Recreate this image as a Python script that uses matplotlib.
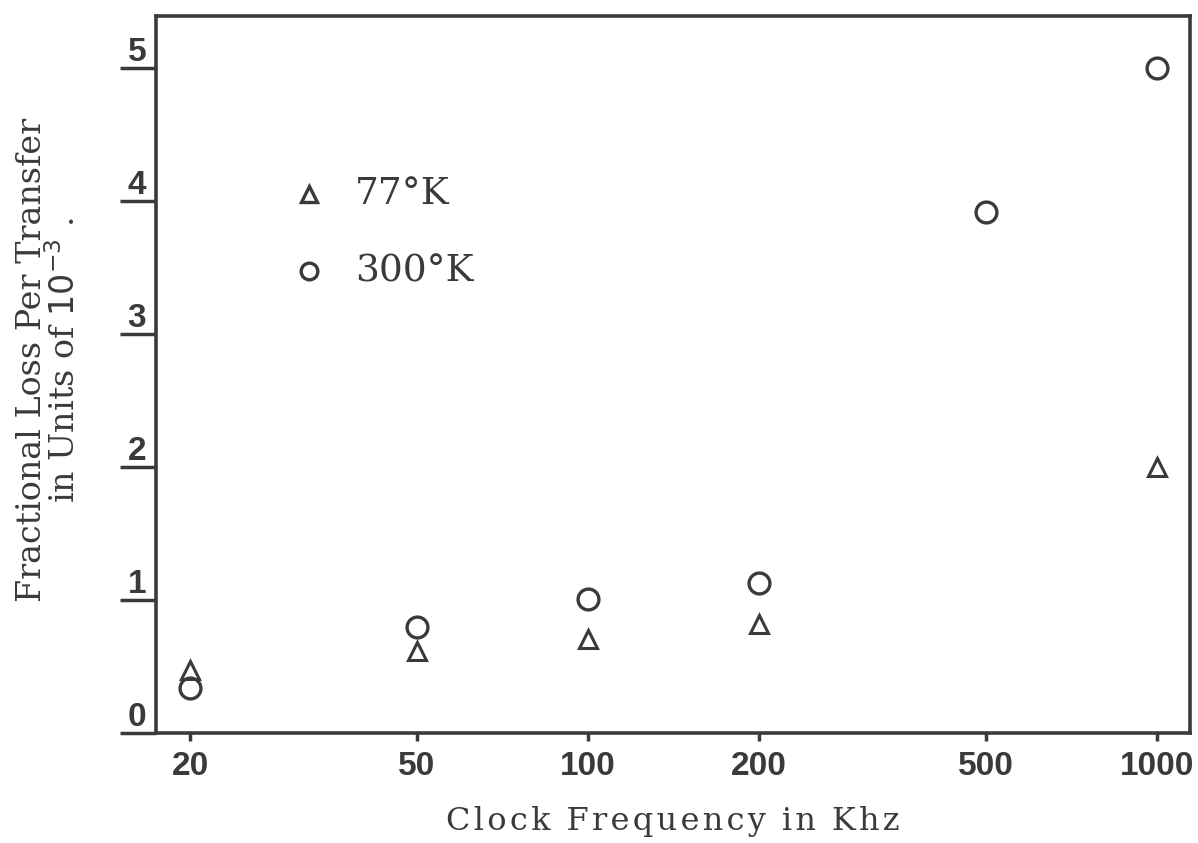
import matplotlib
matplotlib.use("Agg")
import matplotlib.pyplot as plt
import numpy as np

# clock frequency (kHz) and fractional loss per transfer (units of 1e-3)
freq_77 = [20, 50, 100, 200, 1000]
loss_77 = [0.47, 0.62, 0.71, 0.82, 2.0]
freq_300 = [20, 50, 100, 200, 500, 1000]
loss_300 = [0.34, 0.80, 1.01, 1.13, 3.92, 5.0]

xticks = [20, 50, 100, 200, 500, 1000]
yticks = [0, 1, 2, 3, 4, 5]

ink = '#3a3a3a'
serif = ['DejaVu Serif']

fig = plt.figure(figsize=(11.98, 8.43), dpi=100)
ax = fig.add_axes([0.1302, 0.1305, 0.8631, 0.8505])

ax.plot(freq_77, loss_77, linestyle='none', marker='^', markersize=13,
        markerfacecolor='none', markeredgecolor=ink, markeredgewidth=2.2)
ax.plot(freq_300, loss_300, linestyle='none', marker='o', markersize=15,
        markerfacecolor='none', markeredgecolor=ink, markeredgewidth=2.4)

ax.set_xscale('log')
ax.set_xlim(17.42, 1143)
ax.set_ylim(0, 5.39)

ax.set_xticks(xticks)
ax.set_xticklabels([str(v) for v in xticks])
ax.xaxis.set_minor_locator(matplotlib.ticker.NullLocator())
ax.set_yticks(yticks)
ax.set_yticklabels([str(v) for v in yticks])

ax.tick_params(axis='x', direction='out', length=6, width=2.5, color=ink,
               labelsize=24, labelcolor=ink, pad=7)
ax.tick_params(axis='y', direction='out', length=26, width=2.5, color=ink,
               labelsize=24, labelcolor=ink, pad=-19)
for lab in ax.get_xticklabels() + ax.get_yticklabels():
    lab.set_fontfamily('Liberation Sans')
    lab.set_fontweight('bold')
for lab in ax.get_yticklabels():
    lab.set_verticalalignment('bottom')

for sp in ax.spines.values():
    sp.set_linewidth(2.6)
    sp.set_color(ink)

ax.set_xlabel('C l o c k   F r e q u e n c y   i n   K h z'.replace('   ', '\u2002').replace(' ', '\u200a'),
              fontsize=23, family=serif, color=ink, labelpad=17)
ax.set_ylabel('Fractional Loss Per Transfer\nin Units of $10^{-3}$ .',
              fontsize=24, family=serif, color=ink, linespacing=0.95)
ax.yaxis.set_label_coords(-0.072, 0.52)

# legend drawn as in the original figure
ax.plot([32.3], [4.05], linestyle='none', marker='^', markersize=11,
        markerfacecolor='none', markeredgecolor=ink, markeredgewidth=2.4)
ax.plot([32.3], [3.47], linestyle='none', marker='o', markersize=12,
        markerfacecolor='none', markeredgecolor=ink, markeredgewidth=2.4)
ax.text(39.0, 4.05, '77\u00b0K', fontsize=27, family=serif, color=ink, va='center')
ax.text(39.0, 3.47, '300\u00b0K', fontsize=27, family=serif, color=ink, va='center')

fig.savefig('out.png', dpi=100, facecolor='white')
